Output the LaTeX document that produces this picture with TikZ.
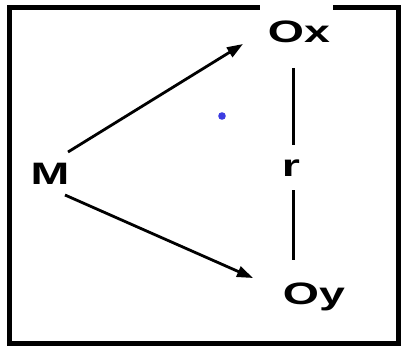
\documentclass[tikz,border=0pt]{standalone}
\usepackage{fontspec}
\setmainfont{Liberation Sans}
\usetikzlibrary{arrows.meta}
\definecolor{dotblue}{RGB}{60,60,225}
\tikzset{
  lbl/.style={font=\fontsize{31}{32}\selectfont\bfseries, xscale=1.5, inner sep=0pt, anchor=base},
  arr/.style={line width=2.8pt, -{Triangle[length=16pt,width=11pt]}},
  rline/.style={line width=3pt},
  frame/.style={line width=5pt}
}
\begin{document}
\begin{tikzpicture}[x=1pt,y=-1pt]
\useasboundingbox (0,0) rectangle (403,347);
\fill[white] (0,0) rectangle (403,347);
\draw[frame] (9,8) rectangle (398,343);
\fill[white] (260,0) rectangle (333,50);
\node[lbl] (M) at (50,184) {M};
\node[lbl] (Ox) at (299,43) {Ox};
\node[lbl] (Oy) at (314,304) {Oy};
\node[lbl] (r) at (291,176) {r};
\draw[arr] ([shift={(18,-32)}]M.base) -- ([shift={(-56,1)}]Ox.base);
\draw[arr] ([shift={(15,11)}]M.base) -- ([shift={(-61,-26)}]Oy.base);
\draw[rline] ([shift={(-6,25)}]Ox.base) -- ([shift={(2,-31)}]r.base);
\draw[rline] ([shift={(2,14)}]r.base) -- ([shift={(-21,-44)}]Oy.base);
\fill[dotblue] (222,116) circle (3.8);
\end{tikzpicture}
\end{document}
